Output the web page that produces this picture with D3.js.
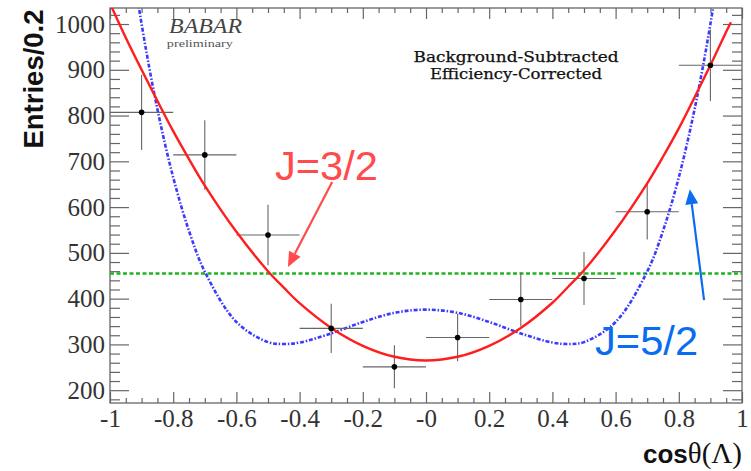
<html>
  <head>
    <meta charset="utf-8" />
    <title>cos theta Lambda</title>
    <script src="https://cdn.jsdelivr.net/npm/d3@7/dist/d3.min.js"></script>
  </head>
  <style>
    html,
    body {
      margin: 0;
      padding: 0;
      background: #fff;
    }
    .tlab {
      font-family: "Liberation Serif", "Times New Roman", serif;
      font-size: 25px;
      fill: #333;
    }
  </style>
  <body>
    <svg width="751" height="471" id="mainsvg"></svg>
    <script>
      // data
      const binCenters = [-0.9, -0.7, -0.5, -0.3, -0.1, 0.1, 0.3, 0.5, 0.7, 0.9];
      const entries = [807, 714, 539, 335, 251, 315, 398, 444, 590, 910];
      const entryErr = [82, 76, 66, 54, 47, 52, 59, 58, 61, 78];
      const binHalfWidth = [0.1, 0.1, 0.1, 0.1, 0.1, 0.1, 0.1, 0.1, 0.1, 0.1];

      // fitted curves
      const fitX = [-1, -0.95, -0.9, -0.85, -0.8, -0.75, -0.7, -0.6, -0.5, -0.45, -0.4, -0.3, -0.2, -0.1, 0,
                    0.1, 0.2, 0.3, 0.4, 0.45, 0.5, 0.6, 0.7, 0.75, 0.8, 0.85, 0.9, 0.95, 1];
      const fitJ52 = [1504, 1229, 1000, 814, 665, 548, 459, 349, 305, 301, 304, 324, 349, 369, 376,
                      369, 349, 324, 304, 301, 305, 349, 459, 548, 665, 814, 1000, 1229, 1504];
      const fitJ32X = [-1, -0.95, -0.9, -0.85, -0.8, -0.75, -0.7, -0.6, -0.5, -0.45, -0.4, -0.3, -0.2, -0.1, 0,
                       0.1, 0.2, 0.3, 0.4, 0.45, 0.5, 0.6, 0.7, 0.75, 0.8, 0.85, 0.9, 0.95, 0.965];
      const fitJ32 = [1045, 970, 900, 832, 766, 705, 647, 546, 460, 424, 390, 336, 297, 273, 265,
                      273, 297, 336, 391, 426, 462, 550, 652, 710, 772, 840, 910, 983, 1004];
      const fitJ12X = [-1, 1];
      const fitJ12 = [455, 455];

      // axis ticks
      const xMajor = [-1, -0.8, -0.6, -0.4, -0.2, 0, 0.2, 0.4, 0.6, 0.8, 1];
      const xTickLabels = ["-1", "-0.8", "-0.6", "-0.4", "-0.2", "-0", "0.2", "0.4", "0.6", "0.8", "1"];
      const yMajor = [200, 300, 400, 500, 600, 700, 800, 900, 1000];
      const yTickLabels = ["200", "300", "400", "500", "600", "700", "800", "900", "1000"];

      // annotations (data coordinates)
      const labelText = ["J=3/2", "J=5/2"];
      const labelColor = ["#ff4b4b", "#0a6cf0"];
      const labelPos = [[-0.478, 659], [0.535, 277]];
      const arrowFrom = [[-0.297, 655], [0.880, 397]];
      const arrowTo = [[-0.437, 469], [0.835, 639]];

      const svg = d3.select("#mainsvg");
      const margin = { top: 8, right: 9, bottom: 68, left: 110 };
      const width = 751, height = 471;
      const x = d3.scaleLinear().domain([-1, 1]).range([margin.left, width - margin.right]);
      const y = d3.scaleLinear().domain([172, 1035]).range([height - margin.bottom, margin.top]);
      const x0 = margin.left, x1 = width - margin.right;
      const y0 = height - margin.bottom, y1 = margin.top;

      svg.append("rect").attr("width", width).attr("height", height).attr("fill", "#fff");

      // minor ticks
      const xMinor = d3.range(-0.95, 1, 0.05).map((v) => +v.toFixed(2))
        .filter((v) => !xMajor.some((m) => Math.abs(m - v) < 1e-6));
      const yMinor = d3.range(180, 1035, 20).filter((v) => v % 100 !== 0);

      function axisGroup(axis, tx, ty) {
        const g = svg.append("g").attr("transform", `translate(${tx},${ty})`).call(axis);
        g.select(".domain").remove();
        g.selectAll("line").attr("stroke", "#666").attr("stroke-width", 1.2);
        return g;
      }

      // bottom
      axisGroup(d3.axisBottom(x).tickValues(xMinor).tickSize(-5).tickFormat(""), 0, y0);
      const bx = axisGroup(d3.axisBottom(x).tickValues(xMajor).tickSize(-11).tickPadding(6)
        .tickFormat((d, i) => xTickLabels[i]), 0, y0);
      bx.selectAll("text").attr("class", "tlab").attr("fill", null).attr("font-size", null).attr("font-family", null);
      // top
      axisGroup(d3.axisTop(x).tickValues(xMinor).tickSize(-5).tickFormat(""), 0, y1);
      axisGroup(d3.axisTop(x).tickValues(xMajor).tickSize(-11).tickFormat(""), 0, y1);
      // left
      axisGroup(d3.axisLeft(y).tickValues(yMinor).tickSize(-10).tickFormat(""), x0, 0);
      const ly = axisGroup(d3.axisLeft(y).tickValues(yMajor).tickSize(-19).tickPadding(5)
        .tickFormat((d, i) => yTickLabels[i]), x0, 0);
      ly.selectAll("text").attr("class", "tlab").attr("fill", null).attr("font-size", null).attr("font-family", null);
      // right
      axisGroup(d3.axisRight(y).tickValues(yMinor).tickSize(-10).tickFormat(""), x1, 0);
      axisGroup(d3.axisRight(y).tickValues(yMajor).tickSize(-19).tickFormat(""), x1, 0);

      // frame
      svg.append("rect")
        .attr("x", x0).attr("y", y1).attr("width", x1 - x0).attr("height", y0 - y1)
        .attr("fill", "none").attr("stroke", "#666").attr("stroke-width", 1.3);

      svg.append("clipPath").attr("id", "plotclip")
        .append("rect").attr("x", x0).attr("y", y1).attr("width", x1 - x0).attr("height", y0 - y1);
      const plot = svg.append("g").attr("clip-path", "url(#plotclip)");

      // header texts
      svg.append("text")
        .attr("x", x(-0.813)).attr("y", y(980))
        .attr("font-family", "Liberation Serif, serif").attr("font-style", "italic")
        .attr("font-size", 21).attr("fill", "#444")
        .attr("textLength", 73).attr("lengthAdjust", "spacingAndGlyphs")
        .text("BABAR");
      svg.append("text")
        .attr("x", x(-0.82)).attr("y", y(950))
        .attr("font-family", "Liberation Serif, serif")
        .attr("font-size", 10).attr("fill", "#555")
        .attr("textLength", 66).attr("lengthAdjust", "spacingAndGlyphs")
        .text("preliminary");
      const note = ["Background-Subtracted", "Efficiency-Corrected"];
      const noteLen = [205, 172];
      note.forEach((t, i) => {
        svg.append("text")
          .attr("x", x(0.285)).attr("y", y(917 - i * 37))
          .attr("text-anchor", "middle")
          .attr("font-family", "DejaVu Serif, serif")
          .attr("font-size", 14).attr("fill", "#111")
          .attr("stroke", "#111").attr("stroke-width", 0.25)
          .attr("textLength", noteLen[i]).attr("lengthAdjust", "spacingAndGlyphs")
          .text(t);
      });

      // fit curves
      const line = d3.line().x((d) => x(d[0])).y((d) => y(d[1])).curve(d3.curveCatmullRom.alpha(0.5));
      plot.append("path")
        .datum(fitJ12X.map((v, i) => [v, fitJ12[i]]))
        .attr("d", line)
        .attr("fill", "none").attr("stroke", "#1fb51f").attr("stroke-width", 2.6)
        .attr("stroke-dasharray", "4,2.5");
      plot.append("path")
        .datum(fitX.map((v, i) => [v, fitJ52[i]]))
        .attr("d", line)
        .attr("fill", "none").attr("stroke", "#3b3bff").attr("stroke-width", 2.6)
        .attr("stroke-dasharray", "4,1.8,1.5,1.8");

      // data points
      const pts = binCenters.map((c, i) => ({ x: c, y: entries[i], e: entryErr[i], w: binHalfWidth[i] }));
      const eb = plot.append("g").attr("stroke", "#666").attr("stroke-width", 1.1);
      eb.selectAll(".hbar").data(pts).join("line").attr("class", "hbar")
        .attr("x1", (d) => x(d.x - d.w)).attr("x2", (d) => x(d.x + d.w))
        .attr("y1", (d) => y(d.y)).attr("y2", (d) => y(d.y));
      eb.selectAll(".vbar").data(pts).join("line").attr("class", "vbar")
        .attr("x1", (d) => x(d.x)).attr("x2", (d) => x(d.x))
        .attr("y1", (d) => y(d.y - d.e)).attr("y2", (d) => y(d.y + d.e));

      plot.append("path")
        .datum(fitJ32X.map((v, i) => [v, fitJ32[i]]))
        .attr("d", line)
        .attr("fill", "none").attr("stroke", "#ff1e1e").attr("stroke-width", 2.4);

      plot.selectAll(".pt").data(pts).join("circle").attr("class", "pt")
        .attr("cx", (d) => x(d.x)).attr("cy", (d) => y(d.y)).attr("r", 2.8).attr("fill", "#000");

      // axis titles
      svg.append("text")
        .attr("transform", `translate(43,${(y1 + 150) / 2}) rotate(-90)`)
        .attr("text-anchor", "middle")
        .attr("font-family", "Liberation Sans, Arial, sans-serif").attr("font-weight", "bold")
        .attr("font-size", 27.5).attr("fill", "#111")
        .text("Entries/0.2");
      const xt = svg.append("text")
        .attr("x", x1).attr("y", 463).attr("text-anchor", "end").attr("fill", "#111");
      xt.append("tspan").attr("font-family", "Liberation Sans, Arial, sans-serif").attr("font-weight", "bold")
        .attr("font-size", 26).text("cos");
      xt.append("tspan").attr("font-family", "Liberation Serif, serif").attr("font-size", 29).text("θ(Λ)");

      // annotations
      labelText.forEach((t, i) => {
        svg.append("text")
          .attr("x", x(labelPos[i][0])).attr("y", y(labelPos[i][1]))
          .attr("font-family", "Liberation Sans, Arial, sans-serif")
          .attr("font-size", 41).attr("fill", labelColor[i])
          .attr("textLength", 103).attr("lengthAdjust", "spacingAndGlyphs")
          .text(t);
        const ax0 = x(arrowFrom[i][0]), ay0 = y(arrowFrom[i][1]);
        const ax1 = x(arrowTo[i][0]), ay1 = y(arrowTo[i][1]);
        const ang = Math.atan2(ay1 - ay0, ax1 - ax0);
        const hl = 15, hw = 6.5;
        const bxp = ax1 - hl * Math.cos(ang), byp = ay1 - hl * Math.sin(ang);
        svg.append("line")
          .attr("x1", ax0).attr("y1", ay0).attr("x2", bxp).attr("y2", byp)
          .attr("stroke", labelColor[i]).attr("stroke-width", 2.2);
        svg.append("path")
          .attr("d", `M${ax1},${ay1}L${bxp - hw * Math.sin(ang)},${byp + hw * Math.cos(ang)}` +
            `L${bxp + hw * Math.sin(ang)},${byp - hw * Math.cos(ang)}Z`)
          .attr("fill", labelColor[i]);
      });
    </script>
  </body>
</html>
